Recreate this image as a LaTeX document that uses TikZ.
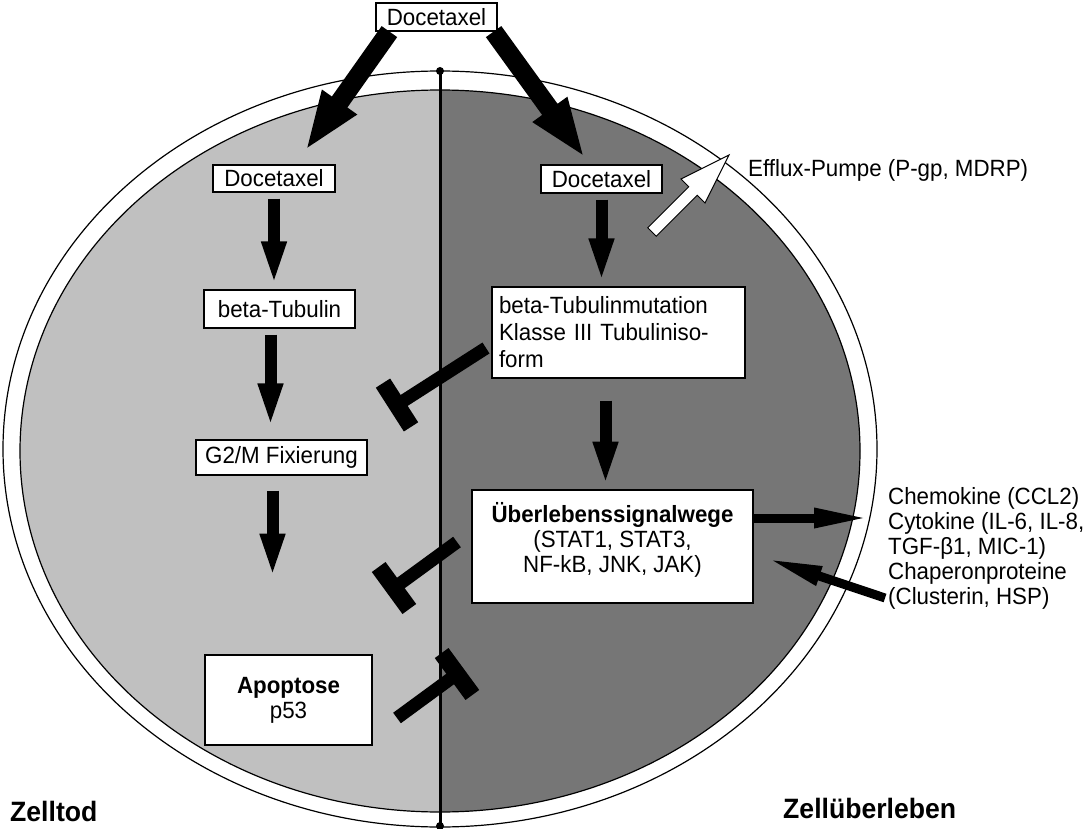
\documentclass[tikz,border=0pt]{standalone}
\usepackage{fontspec}
\setmainfont{Liberation Sans}[FakeStretch=0.95]
\usetikzlibrary{arrows.meta,calc}
\definecolor{deadgray}{RGB}{192,192,192}
\definecolor{livegray}{RGB}{118,118,118}
\newcommand{\inhib}[2]{%
  \draw[block] (#1) -- (#2);
  \draw[bar] ($(#2)!26pt!90:(#1)$) -- ($(#2)!26pt!-90:(#1)$);}
\begin{document}
\begin{tikzpicture}[x=1pt,y=-1pt,
    font=\fontsize{23.5pt}{25pt}\selectfont,
    box/.style={draw,line width=1.2pt,fill=white,inner sep=0pt,align=center},
    bigbox/.style={box,line width=2.6pt},
    push/.style={line width=12pt,shorten <=6pt,shorten >=3pt,-{Triangle[length=45pt,width=22pt]}},
    bigpush/.style={line width=19pt,-{Triangle[length=60pt,width=38pt]}},
    outpush/.style={line width=9pt,-{Triangle[length=56pt,width=18pt]}},
    block/.style={line width=13pt},
    bar/.style={line width=17pt},
    pump/.style={draw,line width=1pt,fill=white}]
  \useasboundingbox (0,0) rectangle (1087,829);
  \fill[white] (0,0) rectangle (1087,829);
  % cell with two halves
  \draw[line width=1.2pt,fill=white] (440,449) ellipse [x radius=437pt, y radius=378pt];
  \begin{scope}
    \clip (440,451) ellipse [x radius=420pt, y radius=361pt];
    \fill[deadgray] (0,0) rectangle (440,829);
    \fill[livegray] (440,0) rectangle (1087,829);
  \end{scope}
  \draw[line width=1.2pt] (440,451) ellipse [x radius=420pt, y radius=361pt];
  \coordinate (mtop) at (440,71);
  \coordinate (mbot) at (440,826);
  \draw[line width=3pt] (mtop) -- (mbot);
  \fill (mtop) circle [radius=4pt] (mbot) circle [radius=4pt];

  \node[box,minimum width=121pt,minimum height=28pt] (top) at (436.5,17) {Docetaxel};
  \node[box,minimum width=122pt,minimum height=27pt] (docL) at (274,178.5) {Docetaxel};
  \node[box,minimum width=121pt,minimum height=28pt] (docR) at (601.5,179) {Docetaxel};
  \node[box,minimum width=151pt,minimum height=38pt] (tubL) at (279.5,309) {beta-Tubulin};
  \node[box,text width=239pt,inner xsep=7pt,inner ysep=2pt,minimum height=91pt,align=left,
        font=\fontsize{23.5pt}{27pt}\selectfont] (tubR) at (618.5,332.5)
    {beta-Tubulinmutation\\Klasse III Tubuliniso-\\form};
  \node[box,minimum width=171pt,minimum height=35pt] (g2m) at (281.5,457.5) {G2/M Fixierung};
  \node[bigbox,minimum width=167pt,minimum height=90pt] (apo) at (288.5,700) {\textbf{Apoptose}\\p53};
  \node[bigbox,minimum width=281pt,minimum height=113pt] (surv) at (612.5,546.5)
    {\textbf{Überlebenssignalwege}\\(STAT1, STAT3,\\NF-kB, JNK, JAK)\\[-6pt]\mbox{}};
  \node[anchor=west,inner sep=0pt] (efflux) at (748,170) {Efflux-Pumpe (P-gp, MDRP)};
  \node[anchor=west,inner sep=0pt,align=left] (chemo) at (888,548.5)
    {Chemokine (CCL2)\\Cytokine (IL-6, IL-8,\\TGF-β1, MIC-1)\\Chaperonproteine\\(Clusterin, HSP)};
  \node[anchor=west,inner sep=0pt,font=\fontsize{28pt}{30pt}\selectfont\bfseries] (death) at (10,811) {Zelltod};
  \node[anchor=west,inner sep=0pt,font=\fontsize{28pt}{30pt}\selectfont\bfseries] (life) at (783,808) {Zellüberleben};

  % uptake
  \coordinate (inL) at (305,151);
  \coordinate (inR) at (585,158);
  \draw[bigpush] ([xshift=14pt]top.south west) -- (inL);
  \draw[bigpush] ([xshift=-4pt]top.south east) -- (inR);

  % left: cell death
  \draw[push] (docL.south) -- (docL.south |- tubL.north);
  \draw[push,shorten >=11pt] ($(tubL.south)+(-9,0)$) -- ($(tubL.south |- g2m.north)+(-9,0)$);
  \draw[push,shorten <=15pt,shorten >=75pt] ($(g2m.south)+(-9,0)$) -- ($(g2m.south |- apo.north)+(-9,0)$);

  % right: survival
  \draw[push] (docR.south) -- (docR.south |- tubR.north);
  \draw[push,shorten <=22pt,shorten >=2pt] ($(tubR.south)+(-13,0)$) -- ($(tubR.south |- surv.north)+(-13,0)$);

  % efflux pump
  \coordinate (eff0) at (652,232);
  \coordinate (eff1) at (729,155);
  \coordinate (effb) at ($(eff0)!58pt!(eff1)$);
  \draw[pump] ($(eff0)!6pt!90:(eff1)$) -- ($(eff0)!6pt!-90:(eff1)$) -- ($(effb)!6pt!-90:(eff1)$)
    -- ($(effb)!17pt!-90:(eff1)$) -- (eff1) -- ($(effb)!17pt!90:(eff1)$) -- ($(effb)!6pt!90:(eff1)$) -- cycle;

  % inhibition
  \coordinate (i1) at (486,348);
  \coordinate (b1) at (397,405);
  \coordinate (i2) at (457,542);
  \coordinate (b2) at (394,588);
  \coordinate (i3) at (397,718);
  \coordinate (b3) at (457,674);
  \inhib{i1}{b1}
  \inhib{i2}{b2}
  \inhib{i3}{b3}

  % secreted and taken up
  \coordinate (sigout) at ([yshift=28.5pt]surv.east);
  \draw[outpush,shorten >=18pt] (sigout) -- (sigout -| chemo.west);
  \coordinate (chapin) at ([xshift=-3pt,yshift=-49.5pt]chemo.west);
  \coordinate (chapend) at ([xshift=12pt,yshift=46pt]surv.south east);
  \draw[outpush] (chapin) -- (chapend);
\end{tikzpicture}
\end{document}
